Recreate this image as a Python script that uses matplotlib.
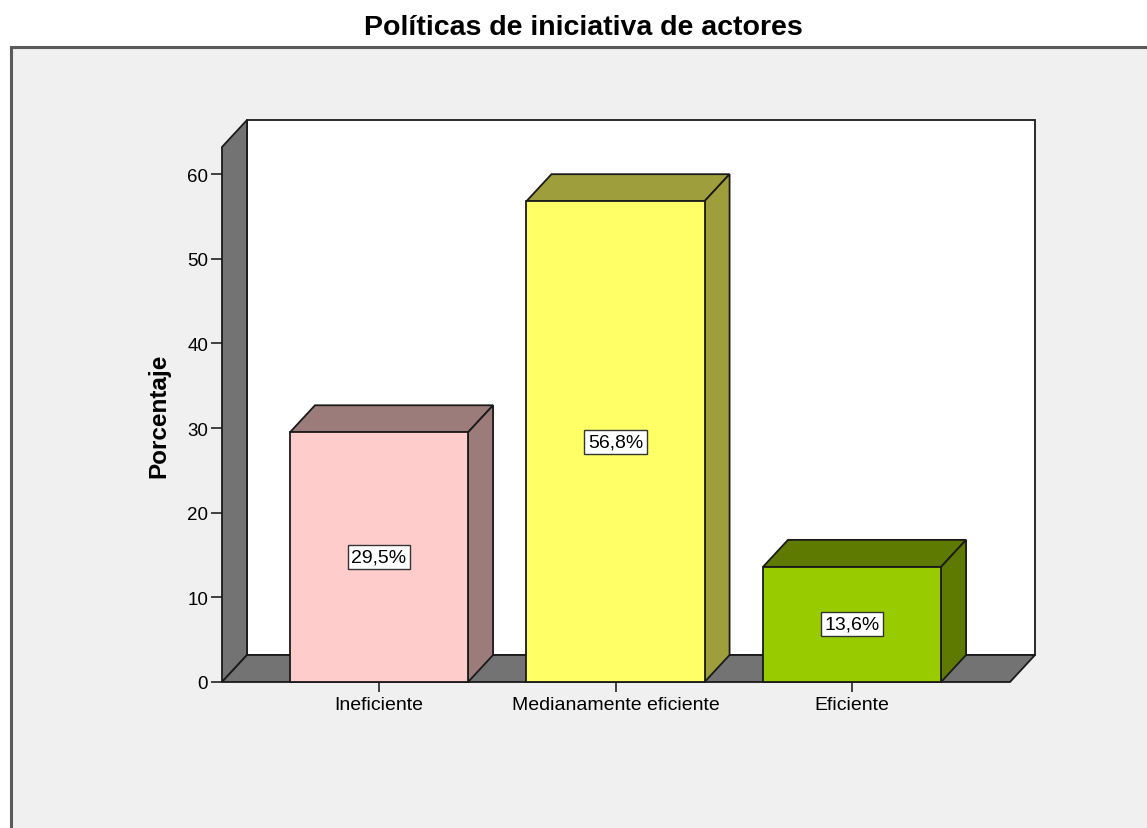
import numpy as np
import matplotlib.pyplot as plt
from matplotlib.patches import Polygon, Rectangle

plt.rcParams['font.family'] = ['Liberation Sans', 'DejaVu Sans']

# Data
categories = ["Ineficiente", "Medianamente eficiente", "Eficiente"]
percentages = [29.5, 56.8, 13.6]
value_labels = ["29,5%", "56,8%", "13,6%"]
front_colors = ["#ffcccc", "#ffff66", "#99cc00"]
side_colors = ["#9c7b7b", "#9e9e3c", "#5f7a00"]
yticks = [0, 10, 20, 30, 40, 50, 60]

W, H = 1147, 829
fig = plt.figure(figsize=(W / 100, H / 100), dpi=100)
fig.patch.set_facecolor("white")

# outer grey panel
fig.patches.append(Rectangle((11 / W, -0.01), 1.0, (H - 48) / H + 0.01,
                             transform=fig.transFigure, facecolor="#f0f0f0",
                             edgecolor="#5a5a5a", linewidth=2.2, zorder=-5))

fig.text(583 / W, 1 - 28 / H, "Políticas de iniciativa de actores",
         ha="center", va="center", fontsize=20.5, fontweight="bold")

# axes = front plane of the 3D box
x0, x1 = 0.336, 3.668
ymax = 63.2
ax = fig.add_axes([222 / W, (H - 683) / H, (1010 - 222) / W, (683 - 148) / H])
ax.set_zorder(2)
ax.set_xlim(x0, x1)
ax.set_ylim(0, ymax)
ax.patch.set_visible(False)
for s in ax.spines.values():
    s.set_visible(False)

dx = 25 / 236.5   # depth offset in x data units
dy = 27 / 8.467   # depth offset in y data units
edge = dict(edgecolor="#1a1a1a", linewidth=1.3, clip_on=False)

# back wall, left wall, floor
ax.add_patch(Polygon([(x0 + dx, dy), (x1 + dx, dy), (x1 + dx, ymax + dy), (x0 + dx, ymax + dy)],
                     facecolor="white", zorder=1, **edge))
ax.add_patch(Polygon([(x0, 0), (x0 + dx, dy), (x0 + dx, ymax + dy), (x0, ymax)],
                     facecolor="#737373", zorder=2, **edge))
ax.add_patch(Polygon([(x0, 0), (x1, 0), (x1 + dx, dy), (x0 + dx, dy)],
                     facecolor="#737373", zorder=2, **edge))

xpos = np.arange(1, len(categories) + 1)
width = 0.753
bars = ax.bar(xpos, percentages, width, color=front_colors, zorder=5, **edge)
for b, sc, lab in zip(bars, side_colors, value_labels):
    l, r, t = b.get_x(), b.get_x() + b.get_width(), b.get_height()
    ax.add_patch(Polygon([(l, t), (r, t), (r + dx, t + dy), (l + dx, t + dy)],
                         facecolor=sc, zorder=4, **edge))
    ax.add_patch(Polygon([(r, 0), (r + dx, dy), (r + dx, t + dy), (r, t)],
                         facecolor=sc, zorder=4, **edge))
    ax.text((l + r) / 2, t / 2, lab, ha="center", va="center", fontsize=14, zorder=6,
            bbox=dict(boxstyle="square,pad=0.18", facecolor="white", edgecolor="#333333", linewidth=1))

ax.set_yticks(yticks)
ax.set_xticks(xpos)
ax.set_xticklabels(categories)
ax.tick_params(axis="y", length=8, width=1.3, color="#333333", labelsize=13.5, pad=2)
ax.tick_params(axis="x", length=7, width=1.3, color="#333333", labelsize=14, pad=3)
ax.set_ylabel("Porcentaje", fontsize=17.5, fontweight="bold", labelpad=12)

fig.savefig("out.png", dpi=100, facecolor=fig.get_facecolor())
